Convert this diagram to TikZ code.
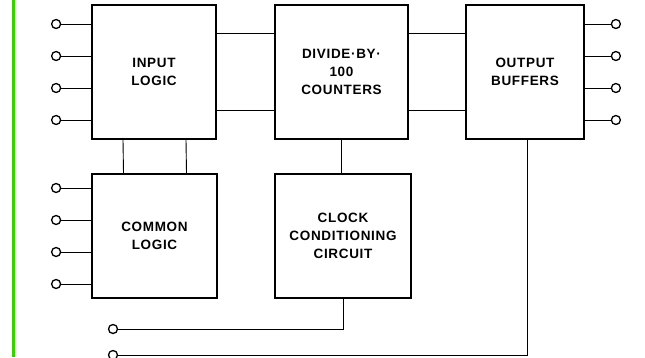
\documentclass[tikz,border=0pt]{standalone}
\usepackage{fontspec}
\newfontfamily\boxfont[LetterSpace=5]{Liberation Sans}
\usepackage{tikz}
\usetikzlibrary{positioning}

\begin{document}
\begin{tikzpicture}[x=1pt,y=-1pt,
   block/.style={draw,line width=1.8pt,align=center,inner sep=2pt,
     font=\boxfont\bfseries\fontsize{13.5}{18}\selectfont},
   pin/.style={draw,circle,line width=1.3pt,fill=white,minimum size=9pt,inner sep=0pt},
   wire/.style={line width=0.9pt}]
 \useasboundingbox (0,0) rectangle (645,357);
 \draw[line width=3pt,green!75!black!70!lime] (13,0) -- (13,357);
 \node[block,minimum width=124pt,minimum height=134pt] (il) at (154,72) {INPUT\\LOGIC};
 \node[block,minimum width=133pt,minimum height=134pt] (dc) at (341.5,72) {DIVIDE·BY·\\100\\COUNTERS};
 \node[block,minimum width=118pt,minimum height=134pt] (ob) at (525,72) {OUTPUT\\BUFFERS};
 \node[block,minimum width=125pt,minimum height=124pt] (cl) at (154.5,236) {COMMON\\LOGIC};
 \node[block,minimum width=136pt,minimum height=124pt] (cc) at (343,236) {CLOCK\\CONDITIONING\\CIRCUIT};
 % pins
 \foreach \i/\y in {1/48,2/16,3/-16,4/-48} {
   \node[pin] (ip\i) at ([xshift=-35pt,yshift=\y pt]il.west) {};
   \node[pin] (cp\i) at ([xshift=-35pt,yshift=\y pt]cl.west) {};
   \node[pin] (op\i) at ([xshift=31pt,yshift=\y pt]ob.east) {};
   \draw[wire] (ip\i) -- (ip\i -| il.west);
   \draw[wire] (cp\i) -- (cp\i -| cl.west);
   \draw[wire] (op\i) -- (op\i -| ob.east);
 }
 \node[pin] (ck) at (113,329) {};
 \node[pin] (en) at (113,355) {};
 % links
 \foreach \y in {39,-38} {
   \draw[wire] ([yshift=\y pt]il.east) -- ([yshift=\y pt]dc.west);
   \draw[wire] ([yshift=\y pt]dc.east) -- ([yshift=\y pt]ob.west);
 }
 \foreach \x in {-31,32}
   \draw[wire] ([xshift=\x pt]il.south) -- ([xshift=\x pt]cl.north);
 \draw[wire] (dc.south) -- (dc.south |- cc.north);
 \draw[wire] (cc.south) |- (ck);
 \draw[wire] ([xshift=2pt]ob.south) |- (en);
\end{tikzpicture}
\end{document}
